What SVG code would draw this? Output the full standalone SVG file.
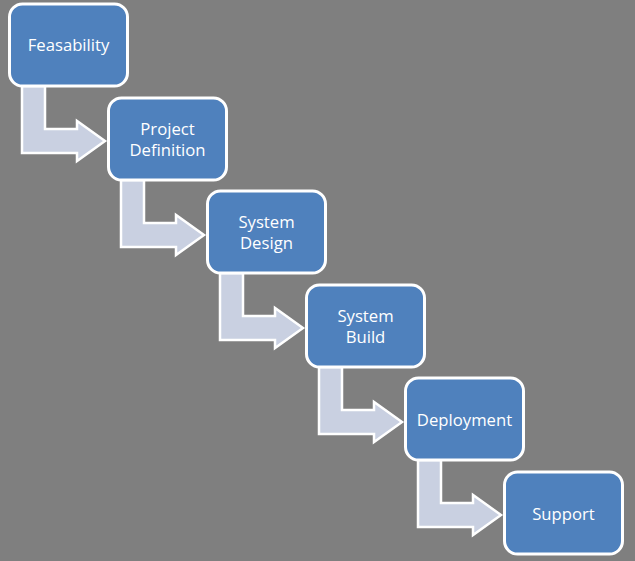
<svg xmlns="http://www.w3.org/2000/svg" width="635" height="561" viewBox="0 0 635 561">
<defs>
<style>
.box{fill:#4f81bd;stroke:#ffffff;stroke-width:3}
.arr{fill:#c9d0e1;stroke:#ffffff;stroke-width:2.5;stroke-linejoin:miter}
.t{fill:#ffffff;font-family:"Open Sans","Liberation Sans",sans-serif;font-size:16.7px;text-anchor:middle}
</style>
<path id="a" class="arr" d="M22,86 L45,86 L45,129 L77,129 L77,121 L105,141 L77,161 L77,153 L22,153 Z"/>
</defs>
<rect width="635" height="561" fill="#7f7f7f"/>
<g id="connectors">
<use href="#a"/>
<use href="#a" transform="translate(99,94)"/>
<use href="#a" transform="translate(198,187)"/>
<use href="#a" transform="translate(297,281)"/>
<use href="#a" transform="translate(396,374)"/>
</g>
<g id="feasability">
<rect class="box" x="9.5" y="4" width="118" height="82" rx="13"/>
<text class="t" x="68.5" y="51">Feasability</text>
</g>
<g id="project-definition">
<rect class="box" x="108.5" y="98" width="118" height="82" rx="13"/>
<text class="t" x="167.5" y="135">Project</text>
<text class="t" x="167.5" y="156">Definition</text>
</g>
<g id="system-design">
<rect class="box" x="207.5" y="191" width="118" height="82" rx="13"/>
<text class="t" x="266.5" y="228">System</text>
<text class="t" x="266.5" y="249">Design</text>
</g>
<g id="system-build">
<rect class="box" x="306.5" y="285" width="118" height="82" rx="13"/>
<text class="t" x="365.5" y="322">System</text>
<text class="t" x="365.5" y="343">Build</text>
</g>
<g id="deployment">
<rect class="box" x="405.5" y="378" width="118" height="82" rx="13"/>
<text class="t" x="464.5" y="426">Deployment</text>
</g>
<g id="support">
<rect class="box" x="504.5" y="472" width="118" height="82" rx="13"/>
<text class="t" x="563.5" y="520">Support</text>
</g>
</svg>
